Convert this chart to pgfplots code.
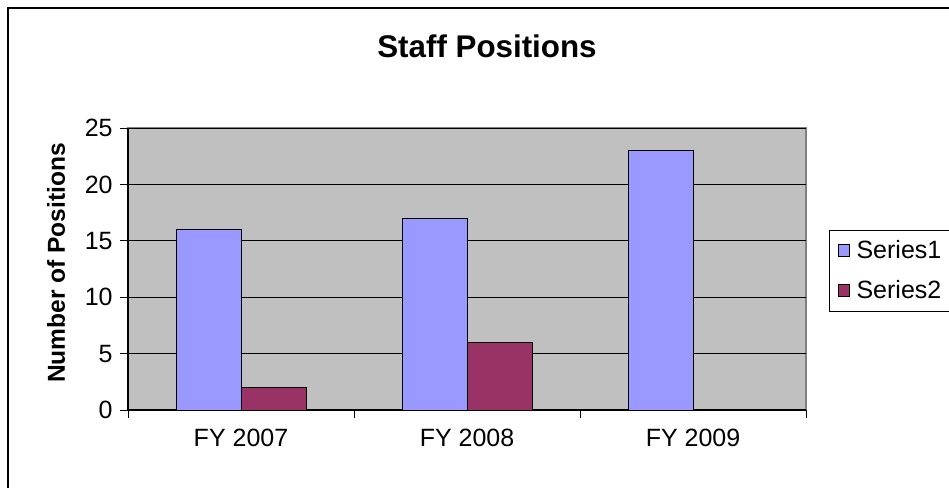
\documentclass[border=0pt]{standalone}
\usepackage{pgfplots}
\pgfplotsset{compat=1.18}
\usepackage{fontspec}
\setmainfont{Liberation Sans}
\definecolor{plotbg}{HTML}{C0C0C0}
\definecolor{sone}{HTML}{9999FF}
\definecolor{stwo}{HTML}{993366}
\definecolor{frame}{HTML}{808080}
\begin{document}
\begin{tikzpicture}
\useasboundingbox (0,0) rectangle (711.75pt,365.25pt);
\draw[line width=1.5pt] (6pt,-20pt) rectangle (760pt,359.25pt);
\begin{axis}[
  at={(96pt,57.75pt)}, anchor=south west,
  scale only axis, width=508.5pt, height=211.5pt,
  ybar=0pt, bar width=48.75pt,
  xmin=-0.5, xmax=2.5, ymin=0, ymax=25,
  xtick={0,1,2}, xticklabels={FY 2007,FY 2008,FY 2009},
  minor xtick={-0.5,0.5,1.5,2.5},
  ytick={0,5,10,15,20,25},
  major x tick style={draw=none},
  tick align=outside, major tick length=6pt, minor tick length=6pt,
  tick style={black, line width=0.75pt},
  ymajorgrids, grid style={black, line width=0.75pt},
  axis x line*=bottom, axis y line*=left,
  axis line style={-, black, line width=0.9pt},
  axis background/.style={fill=plotbg, draw=frame, line width=1pt},
  /pgf/number format/assume math mode=true,
  tick label style={font=\fontsize{18.75}{22}\selectfont},
  yticklabel style={xshift=-2pt},
  xticklabel style={yshift=-5pt},
  title={Staff Positions},
  title style={font=\fontsize{23.5}{28}\selectfont\bfseries, at={(axis description cs:0.5295,1.262)}, anchor=center},
  ylabel={Number of Positions},
  ylabel style={font=\fontsize{18.4}{22}\selectfont\bfseries, at={(axis description cs:-0.1062,0.5213)}, anchor=center},
  legend style={at={(axis description cs:1.034,0.640)}, anchor=north west, draw=black, fill=white, line width=0.75pt,
    font=\fontsize{18.75}{22}\selectfont, row sep=11pt, inner xsep=6pt, inner ysep=6pt},
  legend cell align=left,
  legend image code/.code={\draw[#1, line width=0.75pt] (0pt,-4pt) rectangle (8.5pt,4.5pt);},
]
\addplot[fill=sone, draw=black, line width=0.75pt] coordinates {(0,16) (1,17) (2,23)};
\addplot[fill=stwo, draw=black, line width=0.75pt] coordinates {(0,2) (1,6)};
\legend{\hspace{3pt}Series1\hspace{40pt},\hspace{3pt}Series2}
\end{axis}
\end{tikzpicture}
\end{document}
